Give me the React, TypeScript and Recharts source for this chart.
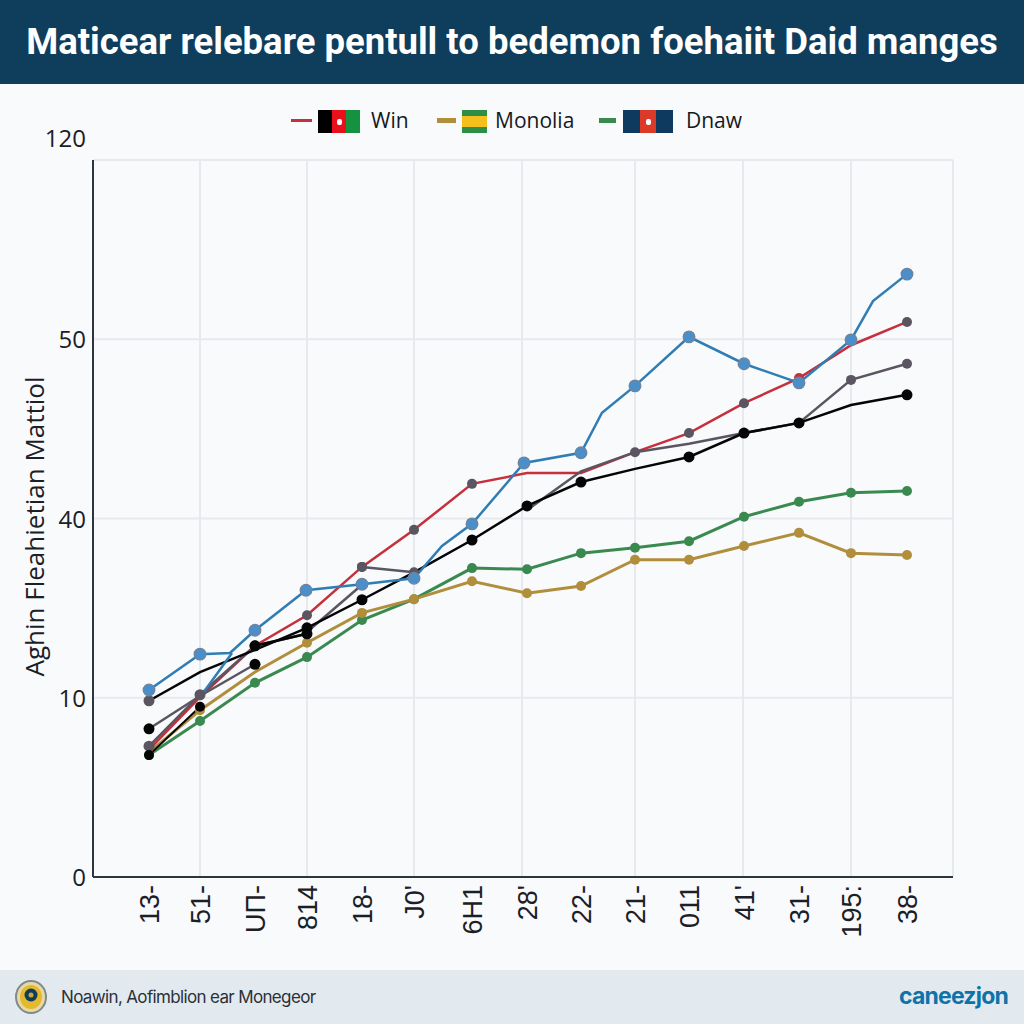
import React from "react";
import { LineChart, Line, XAxis, YAxis, ReferenceLine } from "recharts";

const titleText = "Maticear relebare pentull to bedemon foehaiit Daid manges";
const yAxisTitle = "Aghin Fleahietian Mattiol";
const footerText = "Noawin, Aofimblion ear Monegeor";
const brandText = "caneezjon";
const legendNames = ["Win", "Monolia", "Dnaw"];

const xValues = [56, 107, 162, 214, 269, 321, 379, 434, 488, 542, 596, 651, 706, 758, 814];
const xLabels = ["13-", "51-", "UП-", "814", "18-", "J0'", "6H1", "28'", "22-", "21-", "011", "41'", "31-", "195:", "38-"];
const gridX = [107, 214, 321, 429, 542, 650, 758, 860];
const yTicks = [0, 30, 60, 90, 120];
const yLabels = ["0", "10", "40", "50", "120"];

const greenValues = [20.4, 26.1, 32.5, 36.8, 43.0, 46.5, 51.7, 51.5, 54.2, 55.1, 56.2, 60.3, 62.8, 64.3, 64.6];
const goldValues = [20.9, 27.9, 34.3, 39.2, 44.2, 46.5, 49.5, 47.5, 48.7, 53.1, 53.1, 55.4, 57.6, 54.2, 53.9];
const redValues = [21.3, 30.1, 38.7, 43.8, 51.9, 58.1, 65.8, 67.6, 67.6, 71.1, 74.3, 79.3, 83.5, 89.0, 92.9];
const blackValues = [29.5, 34.3, 38.0, 41.7, 46.4, 51.0, 56.4, 62.1, 66.1, 68.3, 70.3, 74.3, 76.0, 79.0, 80.7];

const blueX = [56, 107, 137, 162, 213, 269, 321, 349, 379, 431, 488, 509, 542, 596, 651, 706, 758, 780, 814];
const blueY = [31.3, 37.3, 37.5, 41.3, 48.0, 49.0, 50.0, 55.4, 59.1, 69.3, 71.0, 77.7, 82.2, 90.4, 85.9, 82.7, 89.9, 96.4, 100.9];
const blueDotless = [137, 349, 509, 780];
const blueBranchX = [107, 139];
const blueBranchY = [30.1, 37.5];

const darkAX = [56, 107, 162, 214];
const darkAY = [21.9, 30.5, 38.7, 40.7];
const darkBX = [214, 269];
const darkBY = [41.0, 48.9];
const darkCX = [269, 321];
const darkCY = [51.9, 51.0];
const darkDX = [434, 488, 542, 596, 651, 706, 758, 814];
const darkDY = [61.4, 67.9, 71.1, 72.5, 74.3, 76.0, 83.2, 85.9];
const blackBX = [56, 107, 162];
const blackBY = [24.8, 30.3, 35.6];
const blackCX = [56, 107];
const blackCY = [20.4, 28.5];
const blackDX = [162, 214];
const blackDY = [38.7, 40.7];

const C = {
  navy: "#0f3d5c",
  bg: "#f8fafc",
  footer: "#e3eaef",
  grid: "#e6eaef",
  axis: "#2b3640",
  blue: "#2f7db3",
  blueDot: "#4a8fca",
  red: "#c62f3c",
  dark: "#5a5560",
  black: "#050505",
  gold: "#b18e3c",
  green: "#3a8a50",
};

const zip = (xs: number[], ys: number[]) => xs.map((x, i) => ({ x, y: ys[i] }));

const solid = (fill: string, r: number, skip: number[] = [], overrides: Record<number, string> = {}) =>
  (props: any) => {
    const { cx, cy, index, payload } = props;
    if (cx == null || cy == null || skip.includes(payload.x) || overrides[index] === "none") return <g key={index} />;
    return <circle key={index} cx={cx} cy={cy} r={r} fill={overrides[index] || fill} />;
  };

const blueDot = (props: any) => {
  const { cx, cy, index, payload } = props;
  if (blueDotless.includes(payload.x)) return <g key={index} />;
  return <circle key={index} cx={cx} cy={cy} r={5.8} fill={C.blueDot} stroke="#71839b" strokeWidth={1.3} />;
};

const XTick = (props: any) => {
  const { x, y, payload, index } = props;
  return (
    <text
      x={0}
      y={0}
      transform={`translate(${x + 10},${y}) rotate(-90)`}
      textAnchor="end"
      fontFamily="Liberation Sans"
      fontSize={27}
      fill="#1b2026"
    >
      {xLabels[index] ?? payload.value}
    </text>
  );
};

const YTick = (props: any) => {
  const { x, y, index } = props;
  const top = index === yLabels.length - 1;
  return (
    <text x={x + 1} y={y + (top ? -22 : 0) + 9} textAnchor="end" fontFamily="Open Sans" fontSize={24} fill="#1b2026">
      {yLabels[index]}
    </text>
  );
};

const series = {
  green: zip(xValues, greenValues),
  gold: zip(xValues, goldValues),
  red: zip(xValues, redValues),
  black: zip(xValues, blackValues),
};

const Flag = ({ left, width, stripes, dir, mark }: any) => (
  <div
    style={{
      position: "absolute",
      left,
      top: 110,
      width,
      height: 23,
      display: "flex",
      flexDirection: dir,
    }}
  >
    {stripes.map((s: any, i: number) => (
      <div key={i} style={{ flex: s[1], background: s[0], display: "flex", alignItems: "center", justifyContent: "center" }}>
        {mark && i === 1 ? <div style={{ width: 5, height: 6, borderRadius: 2, background: "#fff" }} /> : null}
      </div>
    ))}
  </div>
);

const Swatch = ({ left, width, color, h }: any) => (
  <div style={{ position: "absolute", left, top: 120 - h / 2, width, height: h, background: color }} />
);

const LegendText = ({ left, children }: any) => (
  <div
    style={{
      position: "absolute",
      left,
      top: 105,
      fontFamily: "Open Sans",
      fontSize: 21,
      lineHeight: "30px",
      color: "#15191e",
    }}
  >
    {children}
  </div>
);

export default function App() {
  return (
    <div style={{ position: "absolute", left: 0, top: 0, width: 1024, height: 1024, overflow: "hidden", background: C.bg }}>
      <div
        style={{
          position: "absolute",
          left: 0,
          top: 0,
          width: 1024,
          height: 84,
          background: C.navy,
          color: "#fff",
          fontFamily: "Roboto",
          fontWeight: 700,
          fontSize: 36.5,
          lineHeight: "84px",
          textAlign: "center",
          whiteSpace: "nowrap",
        }}
      >
        {titleText}
      </div>

      <Swatch left={291} width={21} color={C.red} h={3} />
      <Flag left={318} width={42} dir="row" mark stripes={[["#000", 1], ["#e8101a", 1], ["#14923f", 1]]} />
      <LegendText left={371}>{legendNames[0]}</LegendText>
      <Swatch left={437} width={19} color={C.gold} h={5} />
      <Flag left={462} width={25} dir="column" stripes={[["#2c8f45", 1], ["#f5c01e", 2], ["#2c8f45", 1]]} />
      <LegendText left={495}>{legendNames[1]}</LegendText>
      <Swatch left={599} width={17} color={C.green} h={5} />
      <Flag left={623} width={50} dir="row" mark stripes={[["#0d3a5e", 1], ["#dc3a28", 1], ["#0d3a5e", 1]]} />
      <LegendText left={686}>{legendNames[2]}</LegendText>

      <div style={{ position: "absolute", left: 0, top: 0 }}>
        <LineChart width={1024} height={1024} margin={{ top: 160, right: 71, bottom: 87, left: 33 }}>
          <XAxis
            type="number"
            dataKey="x"
            domain={[0, 860]}
            ticks={xValues}
            interval={0}
            height={60}
            tick={<XTick />}
            tickLine={false}
            axisLine={{ stroke: C.axis, strokeWidth: 2 }}
            allowDataOverflow
          />
          <YAxis
            type="number"
            dataKey="y"
            domain={[0, 120]}
            ticks={yTicks}
            interval={0}
            width={60}
            tick={<YTick />}
            tickLine={false}
            axisLine={{ stroke: C.axis, strokeWidth: 2 }}
            label={{
              value: yAxisTitle,
              angle: -90,
              position: "insideLeft",
              dx: -3,
              dy: 8,
              style: { fontFamily: "Open Sans", fontSize: 26, fill: "#1b2026", textAnchor: "middle" },
            }}
          />
          {yTicks.slice(1).map((v) => (
            <ReferenceLine key={v} y={v} stroke={C.grid} strokeWidth={2} />
          ))}
          {gridX.map((v) => (
            <ReferenceLine key={v} x={v} stroke={C.grid} strokeWidth={2} />
          ))}

          <Line data={series.green} dataKey="y" stroke={C.green} strokeWidth={3} isAnimationActive={false} dot={solid(C.green, 5)} />
          <Line data={series.gold} dataKey="y" stroke={C.gold} strokeWidth={3} isAnimationActive={false} dot={solid(C.gold, 5, [], { 0: "none", 2: "none" })} />
          <Line
            data={series.red}
            dataKey="y"
            stroke={C.red}
            strokeWidth={2.5}
            isAnimationActive={false}
            dot={solid(C.dark, 5, [], { 0: "none", 1: "none", 2: "none", 7: "none", 8: "none", 9: "none", 12: C.red, 13: "none" })}
          />
          <Line data={zip(darkAX, darkAY)} dataKey="y" stroke={C.dark} strokeWidth={2.5} isAnimationActive={false} dot={solid(C.dark, 5.5, [], { 3: "none" })} />
          <Line data={zip(darkBX, darkBY)} dataKey="y" stroke={C.dark} strokeWidth={2.5} isAnimationActive={false} dot={false} />
          <Line data={zip(darkCX, darkCY)} dataKey="y" stroke={C.dark} strokeWidth={2.5} isAnimationActive={false} dot={solid(C.dark, 5)} />
          <Line
            data={zip(darkDX, darkDY)}
            dataKey="y"
            stroke={C.dark}
            strokeWidth={2.5}
            isAnimationActive={false}
            dot={solid(C.dark, 5, [], { 0: "none", 1: "none", 3: "none", 4: "none", 5: "none" })}
          />
          <Line data={zip(blackBX, blackBY)} dataKey="y" stroke={C.dark} strokeWidth={2.5} isAnimationActive={false} dot={solid(C.black, 5.5, [], { 1: "none" })} />
          <Line data={zip(blackCX, blackCY)} dataKey="y" stroke={C.black} strokeWidth={2} isAnimationActive={false} dot={solid(C.black, 5, [])} />
          <Line
            data={series.black}
            dataKey="y"
            stroke={C.black}
            strokeWidth={2.5}
            isAnimationActive={false}
            dot={solid(C.black, 5.5, [], { 0: C.dark, 1: "none", 2: "none", 5: "none", 9: "none", 13: "none" })}
          />
          <Line data={zip(blackDX, blackDY)} dataKey="y" stroke={C.black} strokeWidth={2.5} isAnimationActive={false} dot={solid(C.black, 5.5)} />
          <Line data={zip(blueBranchX, blueBranchY)} dataKey="y" stroke={C.blue} strokeWidth={2.5} isAnimationActive={false} dot={false} />
          <Line data={zip(blueX, blueY)} dataKey="y" stroke={C.blue} strokeWidth={2.5} isAnimationActive={false} dot={blueDot} />
        </LineChart>
      </div>

      <div style={{ position: "absolute", left: 0, top: 970, width: 1024, height: 54, background: C.footer }} />
      <svg style={{ position: "absolute", left: 14, top: 980 }} width={34} height={36}>
        <ellipse cx={17} cy={17} rx={15} ry={16} fill="#e8d9a0" stroke="#7f8a8e" strokeWidth={2} />
        <ellipse cx={17} cy={17} rx={11} ry={12} fill="#e3b92f" />
        <circle cx={17} cy={15} r={6.5} fill="#0f3d5c" />
        <circle cx={17} cy={15} r={2.5} fill="#c9a53a" />
      </svg>
      <div
        style={{
          position: "absolute",
          left: 61,
          top: 984,
          fontFamily: "Inter",
          fontSize: 17,
          lineHeight: "26px",
          color: "#2a3138",
          letterSpacing: -0.65,
          whiteSpace: "nowrap",
        }}
      >
        {footerText}
      </div>
      <div
        style={{
          position: "absolute",
          right: 16,
          top: 979,
          fontFamily: "Inter",
          fontWeight: 700,
          fontSize: 23,
          lineHeight: "34px",
          color: "#0f73a8",
          letterSpacing: -0.8,
        }}
      >
        {brandText}
      </div>
    </div>
  );
}
